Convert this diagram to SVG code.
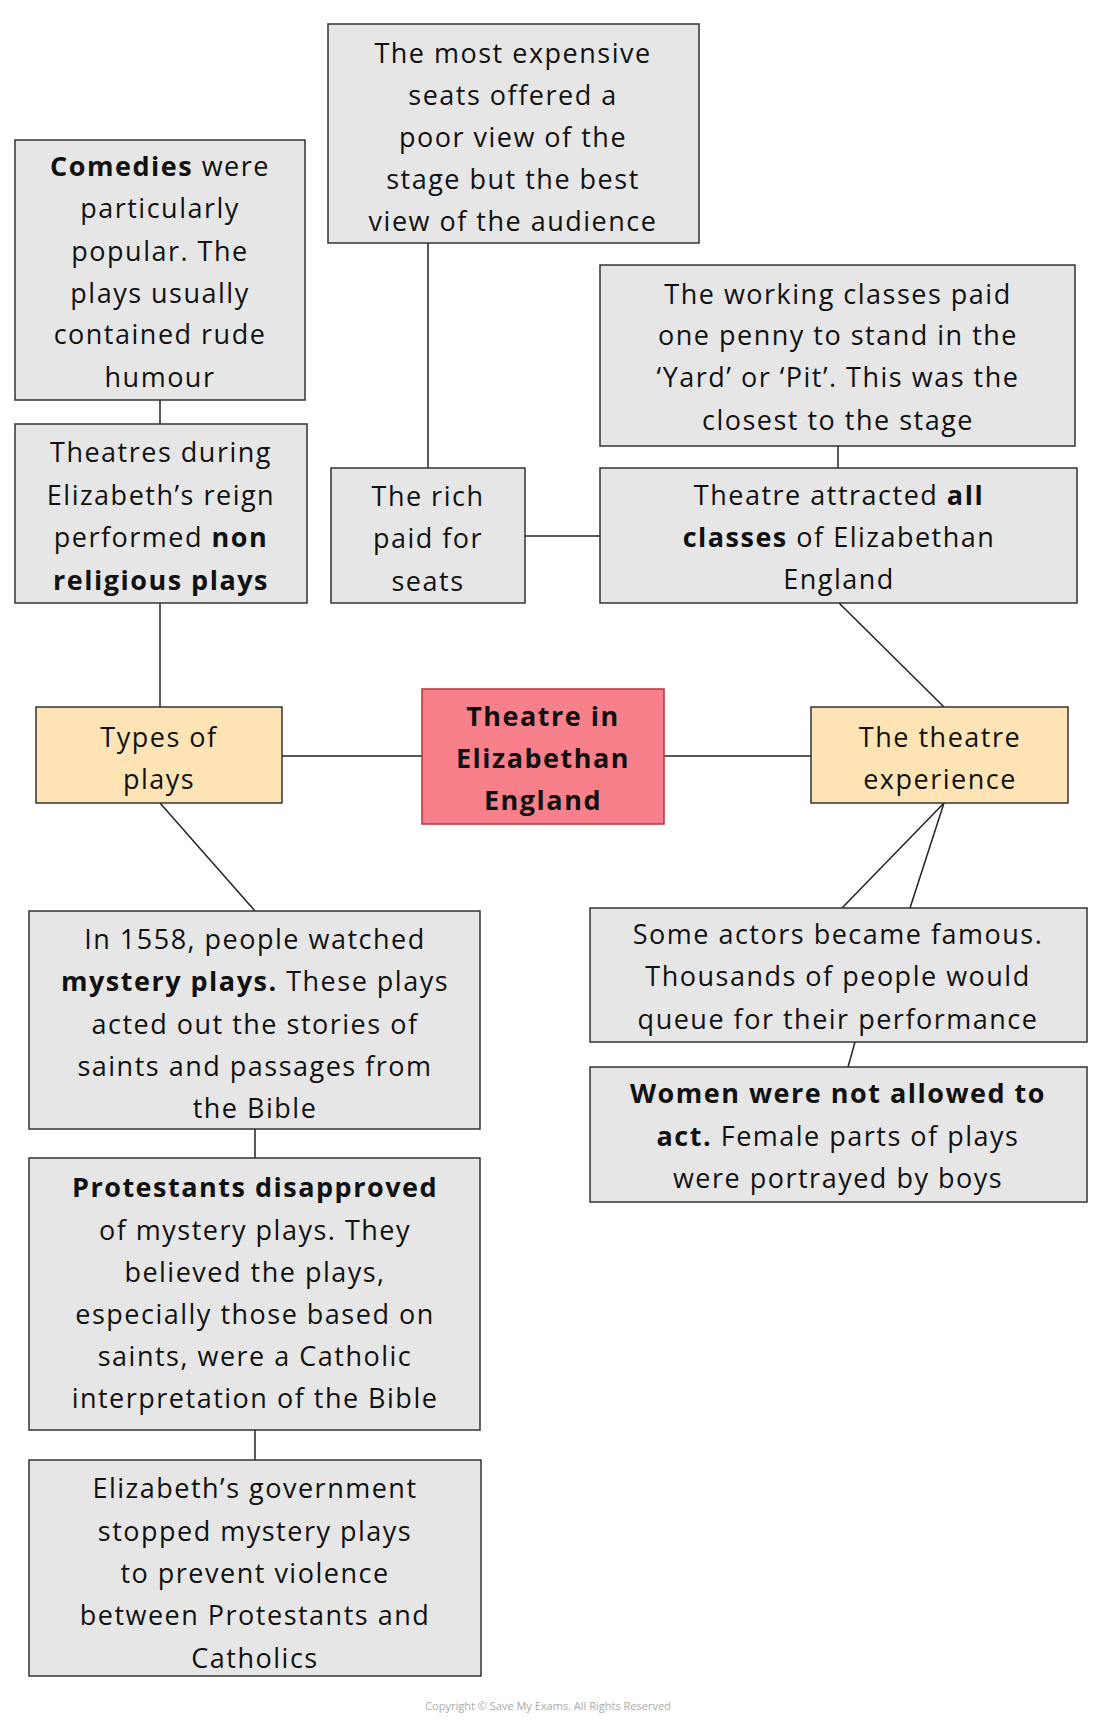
<svg xmlns="http://www.w3.org/2000/svg" width="1100" height="1730" viewBox="0 0 1100 1730">
<style>
.b{fill:#e6e6e6;stroke:#333;stroke-width:1.5}
.y{fill:#fee4b4;stroke:#333;stroke-width:1.5}
.r{fill:#f8808a;stroke:#c0303a;stroke-width:1.5}
text{font-family:"Open Sans","DejaVu Sans",sans-serif;font-size:27px;fill:#111;text-anchor:middle;dominant-baseline:central;letter-spacing:1.5px}
.k{font-weight:bold}
.c line{stroke:#222;stroke-width:1.5}
.cp{font-size:11px;fill:#aaa;letter-spacing:0}
</style>
<rect width="1100" height="1730" fill="#fff"/>
<g class="c" id="connectors">
<line x1="428" y1="243" x2="428" y2="468"/>
<line x1="160" y1="400" x2="160" y2="424"/>
<line x1="160" y1="603" x2="160" y2="707"/>
<line x1="525" y1="536" x2="600" y2="536"/>
<line x1="838" y1="446" x2="838" y2="468"/>
<line x1="839" y1="603" x2="944" y2="707"/>
<line x1="282" y1="756" x2="422" y2="756"/>
<line x1="664" y1="756" x2="811" y2="756"/>
<line x1="160" y1="803" x2="255" y2="911"/>
<line x1="255" y1="1129" x2="255" y2="1158"/>
<line x1="255" y1="1430" x2="255" y2="1460"/>
<line x1="944" y1="803" x2="842" y2="908"/>
<line x1="944" y1="803" x2="910" y2="908"/>
<line x1="855" y1="1042" x2="848" y2="1067"/>
</g>
<g id="n1"><rect class="b" x="328" y="24" width="371" height="219"/>
<text x="513" y="52">The most expensive</text><text x="513" y="94">seats offered a</text><text x="513" y="136">poor view of the</text><text x="513" y="178">stage but the best</text><text x="513" y="220">view of the audience</text></g>
<g id="n2"><rect class="b" x="15" y="140" width="290" height="260"/>
<text x="160" y="165"><tspan class="k">Comedies</tspan> were</text><text x="160" y="207">particularly</text><text x="160" y="250">popular. The</text><text x="160" y="292">plays usually</text><text x="160" y="333">contained rude</text><text x="160" y="376">humour</text></g>
<g id="n3"><rect class="b" x="15" y="424" width="292" height="179"/>
<text x="161" y="451">Theatres during</text><text x="161" y="494">Elizabeth’s reign</text><text x="161" y="536">performed <tspan class="k">non</tspan></text><text x="161" y="579" class="k">religious plays</text></g>
<g id="n4"><rect class="b" x="331" y="468" width="194" height="135"/>
<text x="428" y="495">The rich</text><text x="428" y="537">paid for</text><text x="428" y="580">seats</text></g>
<g id="n5"><rect class="b" x="600" y="265" width="475" height="181"/>
<text x="838" y="293">The working classes paid</text><text x="838" y="334">one penny to stand in the</text><text x="838" y="376">‘Yard’ or ‘Pit’. This was the</text><text x="838" y="419">closest to the stage</text></g>
<g id="n6"><rect class="b" x="600" y="468" width="477" height="135"/>
<text x="839" y="494">Theatre attracted <tspan class="k">all</tspan></text><text x="839" y="536"><tspan class="k">classes</tspan> of Elizabethan</text><text x="839" y="578">England</text></g>
<g id="n7"><rect class="y" x="36" y="707" width="246" height="96"/>
<text x="159" y="736">Types of</text><text x="159" y="778">plays</text></g>
<g id="n8"><rect class="r" x="422" y="689" width="242" height="135"/>
<text x="543" y="715" class="k">Theatre in</text><text x="543" y="757" class="k">Elizabethan</text><text x="543" y="799" class="k">England</text></g>
<g id="n9"><rect class="y" x="811" y="707" width="257" height="96"/>
<text x="940" y="736">The theatre</text><text x="940" y="778">experience</text></g>
<g id="n10"><rect class="b" x="29" y="911" width="451" height="218"/>
<text x="255" y="938">In 1558, people watched</text><text x="255" y="980"><tspan class="k">mystery plays.</tspan> These plays</text><text x="255" y="1023">acted out the stories of</text><text x="255" y="1065">saints and passages from</text><text x="255" y="1107">the Bible</text></g>
<g id="n11"><rect class="b" x="29" y="1158" width="451" height="272"/>
<text x="255" y="1186" class="k">Protestants disapproved</text><text x="255" y="1229">of mystery plays. They</text><text x="255" y="1271">believed the plays,</text><text x="255" y="1313">especially those based on</text><text x="255" y="1355">saints, were a Catholic</text><text x="255" y="1397">interpretation of the Bible</text></g>
<g id="n12"><rect class="b" x="29" y="1460" width="452" height="216"/>
<text x="255" y="1487">Elizabeth’s government</text><text x="255" y="1530">stopped mystery plays</text><text x="255" y="1572">to prevent violence</text><text x="255" y="1614">between Protestants and</text><text x="255" y="1657">Catholics</text></g>
<g id="n13"><rect class="b" x="590" y="908" width="497" height="134"/>
<text x="838" y="933">Some actors became famous.</text><text x="838" y="975">Thousands of people would</text><text x="838" y="1018">queue for their performance</text></g>
<g id="n14"><rect class="b" x="590" y="1067" width="497" height="135"/>
<text x="838" y="1092" class="k">Women were not allowed to</text><text x="838" y="1135"><tspan class="k">act.</tspan> Female parts of plays</text><text x="838" y="1177">were portrayed by boys</text></g>
<text x="548" y="1705" class="cp">Copyright © Save My Exams. All Rights Reserved</text>
</svg>
